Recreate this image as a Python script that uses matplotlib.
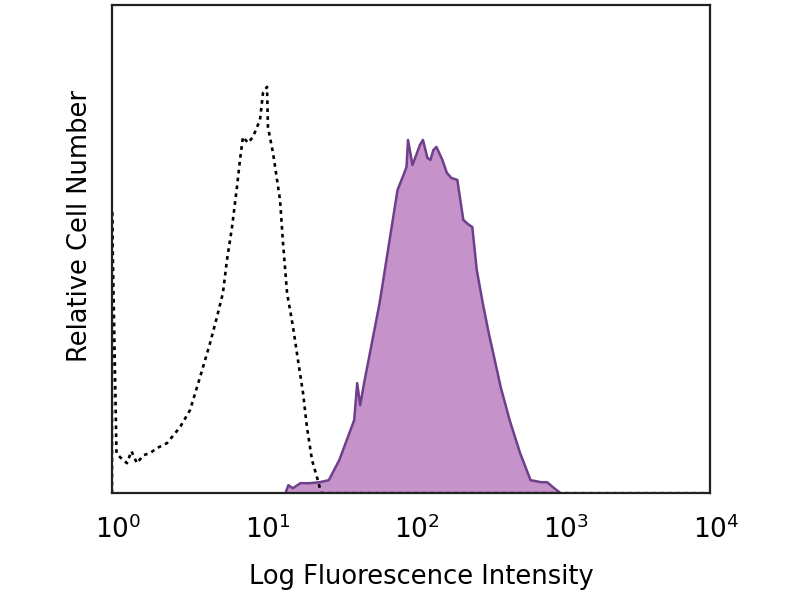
import matplotlib
matplotlib.use('Agg')
import matplotlib.pyplot as plt
import matplotlib.transforms as mtransforms
import numpy as np

# isotype control (dashed), x in log10 units, counts in arbitrary units
ctrl_log = [0.0, 0.0, 0.03, 0.054, 0.10, 0.13, 0.167, 0.21, 0.254, 0.30, 0.368, 0.455, 0.522,
            0.589, 0.656, 0.702, 0.742, 0.769, 0.803, 0.836, 0.856, 0.876, 0.91, 0.943,
            0.990, 1.010, 1.037, 1.043, 1.077, 1.124, 1.144, 1.171, 1.211, 1.244, 1.278,
            1.304, 1.338, 1.371, 1.40, 4.0]
ctrl_cnt = [0, 283, 40, 36, 30, 42, 30, 38, 40, 45, 50, 66, 83,
            116, 150, 176, 200, 233, 266, 306, 333, 356, 350, 356,
            373, 400, 406, 366, 340, 293, 250, 200, 166, 133, 100,
            66, 33, 16, 0, 0]

# stained sample (filled purple)
samp_log = [1.16, 1.18, 1.21, 1.26, 1.32, 1.39, 1.45, 1.52, 1.57, 1.62, 1.64, 1.66, 1.69,
            1.79, 1.86, 1.91, 1.95, 1.97, 1.98, 2.01, 2.04, 2.06, 2.08, 2.11, 2.13,
            2.15, 2.17, 2.21, 2.24, 2.27, 2.31, 2.35, 2.38, 2.41, 2.44, 2.48, 2.52,
            2.55, 2.60, 2.66, 2.73, 2.80, 2.87, 2.91, 2.95, 3.00]
samp_cnt = [0, 8, 5, 10, 10, 11, 13, 33, 53, 73, 110, 88, 113,
            190, 256, 303, 318, 326, 353, 328, 340, 348, 353, 335, 333,
            343, 346, 333, 320, 315, 313, 273, 269, 266, 223, 190, 160,
            140, 106, 73, 40, 13, 11, 11, 6, 0]

fig = plt.figure(figsize=(8, 6), dpi=100)
ax = fig.add_axes([0.14, 0.178, 0.7475, 0.814])

sx = 10 ** np.array(samp_log)
cx = 10 ** np.array(ctrl_log)

ax.fill_between(sx, samp_cnt, color='#c592c9', lw=0)
ax.plot(sx, samp_cnt, color='#6e3f8a', lw=1.8)
ax.plot(cx, ctrl_cnt, color='black', lw=1.9, linestyle=(0, (1.4, 1.6)))

ax.set_xscale('log')
ax.set_xlim(1, 1e4)
ax.set_ylim(0, 488)
ax.set_yticks([])
ax.set_xticks([1, 10, 100, 1000, 10000])
ax.set_xticklabels(['$10^0$', '$10^1$', '$10^2$', '$10^3$', '$10^4$'])
ax.minorticks_off()
ax.tick_params(axis='x', length=0, pad=16, labelsize=19)
shift = mtransforms.ScaledTranslation(6 / 100, 0, fig.dpi_scale_trans)
for lab in ax.get_xticklabels():
    lab.set_transform(lab.get_transform() + shift)
for s in ax.spines.values():
    s.set_linewidth(1.6)
    s.set_color('#222222')

ax.set_xlabel('Log Fluorescence Intensity', fontsize=18.5)
ax.xaxis.set_label_coords(0.518, -0.145)
ax.set_ylabel('Relative Cell Number', fontsize=18.5)
ax.yaxis.set_label_coords(-0.032, 0.547)

fig.savefig('out.png', dpi=100)
